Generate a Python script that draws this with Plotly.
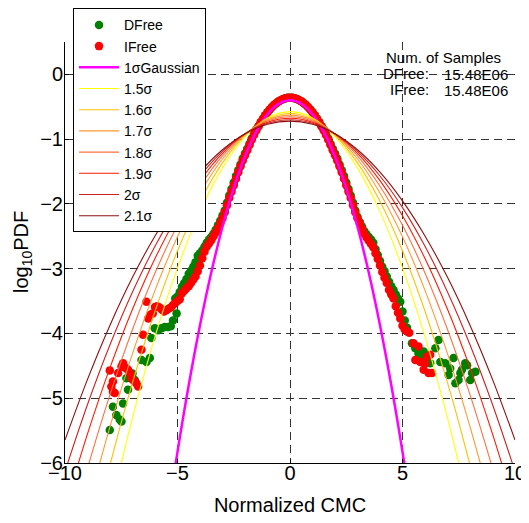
import plotly.graph_objects as go

# ---------------- data ----------------
# DFree (green) histogram points
dfree_x = [-8.01, -7.87, -7.72, -7.57, -7.49, -7.42, -7.27, -7.20, -7.00, -6.90, -6.60, -6.38, -6.23, -6.16,
           -6.01, -5.86, -5.71, -5.57, -5.42, -5.30, -5.20, -5.04, -5.10, -5.00, -4.90, -4.80, -4.70, -4.60,
           -4.50, -4.40, -4.30, -4.20, -4.10, -4.00, -3.90, -3.80, -3.70, -3.60, -3.50, -3.40, -3.30, -3.20,
           -3.10, -3.00, -2.90,
           -2.8, -2.7, -2.6, -2.5, -2.4, -2.3, -2.2, -2.1, -2.0, -1.9, -1.8, -1.7, -1.6, -1.5, -1.4, -1.3,
           -1.2, -1.1, -1.0, -0.9, -0.8, -0.7, -0.6, -0.5, -0.4, -0.3, -0.2, -0.1, 0.0, 0.1, 0.2, 0.3, 0.4,
           0.5, 0.6, 0.7, 0.8, 0.9, 1.0, 1.1, 1.2, 1.3, 1.4, 1.5, 1.6, 1.7, 1.8, 1.9, 2.0, 2.1, 2.2, 2.3,
           2.4, 2.5, 2.6, 2.7, 2.8,
           2.9, 3.0, 3.1, 3.2, 3.3, 3.4, 3.5, 3.6, 3.7, 3.8, 3.9, 4.0, 4.1, 4.2, 4.3, 4.4, 4.5, 4.6, 4.7,
           4.8, 4.9, 5.0, 5.1, 5.2, 5.42, 5.57, 5.71, 5.79, 5.94, 6.09, 6.23, 6.46, 6.60, 6.68, 6.90, 7.05,
           7.12, 7.27, 7.35, 7.49, 7.57, 7.64, 7.79, 7.87, 8.01, 8.09, 8.24]
dfree_y = [-5.49, -5.13, -5.26, -5.33, -5.36, -5.08, -4.69, -4.87, -4.62, -4.72, -4.41, -4.44, -4.38, -4.07,
           -3.92, -3.95, -3.92, -3.90, -3.90, -3.89, -3.80, -3.69, -3.46, -3.43, -3.36, -3.28, -3.22, -3.16,
           -3.08, -3.03, -2.97, -2.90, -2.80, -2.76, -2.72, -2.66, -2.60, -2.55, -2.51, -2.46, -2.40, -2.33,
           -2.26, -2.18, -2.10,
           -1.98, -1.87, -1.77, -1.67, -1.57, -1.48, -1.39, -1.30, -1.22, -1.15, -1.07, -0.99, -0.92, -0.85,
           -0.801, -0.740, -0.684, -0.632, -0.585, -0.542, -0.504, -0.470, -0.441, -0.416, -0.396, -0.380,
           -0.369, -0.362, -0.360, -0.362, -0.369, -0.380, -0.396, -0.416, -0.441, -0.470, -0.504, -0.542,
           -0.585, -0.632, -0.684, -0.740, -0.801, -0.85, -0.92, -0.99, -1.07, -1.15, -1.22, -1.30, -1.39,
           -1.48, -1.57, -1.67, -1.77, -1.87, -1.98,
           -2.10, -2.20, -2.28, -2.35, -2.42, -2.47, -2.51, -2.55, -2.60, -2.70, -2.79, -2.88, -2.97, -3.04,
           -3.12, -3.20, -3.27, -3.33, -3.40, -3.46, -3.51, -3.66, -3.80, -3.91, -4.15, -4.23, -4.31, -4.36,
           -4.28, -4.38, -4.46, -4.23, -4.10, -4.44, -4.46, -4.64, -4.54, -4.38, -4.77, -4.72, -4.61, -4.56,
           -4.46, -4.49, -4.72, -4.61, -4.59]

# IFree (red) histogram points
ifree_x = [-8.01, -7.94, -7.87, -7.87, -7.79, -7.64, -7.49, -7.42, -7.35, -7.27, -7.20, -7.12, -7.05,
           -6.98, -6.90, -6.83, -6.75, -6.60, -6.53, -6.38, -6.30, -6.20, -6.10, -6.00, -5.90, -5.80, -5.70,
           -5.60, -5.50, -5.40, -5.30, -5.20, -5.10, -5.00, -4.90, -4.80, -4.70, -4.60, -4.50, -4.40, -4.30,
           -4.20, -4.10, -4.00, -3.90, -3.80, -3.70, -3.60, -3.50, -3.40, -3.30, -3.20, -3.10, -3.00, -2.90,
           -2.8, -2.7, -2.6, -2.5, -2.4, -2.3, -2.2, -2.1, -2.0, -1.9, -1.8, -1.7, -1.6, -1.5, -1.4, -1.3,
           -1.2, -1.1, -1.0, -0.9, -0.8, -0.7, -0.6, -0.5, -0.4, -0.3, -0.2, -0.1, 0.0, 0.1, 0.2, 0.3, 0.4,
           0.5, 0.6, 0.7, 0.8, 0.9, 1.0, 1.1, 1.2, 1.3, 1.4, 1.5, 1.6, 1.7, 1.8, 1.9, 2.0, 2.1, 2.2, 2.3,
           2.4, 2.5, 2.6, 2.7, 2.8,
           2.9, 3.0, 3.1, 3.2, 3.3, 3.4, 3.5, 3.6, 3.7, 3.8, 3.9, 4.0, 4.1, 4.2, 4.3, 4.4, 4.5, 4.6, 4.7,
           4.8, 4.9, 5.0, 5.1, 5.2, 5.3, 5.49, 5.57, 5.71, 5.79, 5.94, 6.01, 6.09, 6.16, 6.23, 6.31]
ifree_y = [-4.57, -4.82, -4.74, -4.90, -4.92, -4.61, -4.51, -4.46, -4.52, -4.54, -4.56, -4.61, -4.69,
           -4.72, -4.74, -4.77, -4.82, -4.25, -4.02, -3.51, -3.77, -3.71, -3.69, -3.59, -3.58, -3.60, -3.63,
           -3.66, -3.64, -3.62, -3.60, -3.56, -3.53, -3.50, -3.47, -3.38, -3.34, -3.30, -3.27, -3.22, -3.17,
           -3.12, -3.04, -2.95, -2.84, -2.74, -2.66, -2.61, -2.56, -2.50, -2.44, -2.37, -2.30, -2.22, -2.13,
           -2.02, -1.91, -1.81, -1.71, -1.61, -1.51, -1.42, -1.33, -1.25, -1.172, -1.089, -1.010, -0.936,
           -0.866, -0.801, -0.740, -0.684, -0.632, -0.585, -0.542, -0.504, -0.470, -0.441, -0.416, -0.396,
           -0.380, -0.369, -0.362, -0.360, -0.362, -0.369, -0.380, -0.396, -0.416, -0.441, -0.470, -0.504,
           -0.542, -0.585, -0.632, -0.684, -0.740, -0.801, -0.866, -0.936, -1.010, -1.089, -1.172, -1.25,
           -1.33, -1.42, -1.51, -1.61, -1.71, -1.81, -1.91, -2.02,
           -2.13, -2.22, -2.30, -2.38, -2.46, -2.52, -2.57, -2.62, -2.67, -2.76, -2.85, -2.95, -3.05, -3.14,
           -3.22, -3.33, -3.40, -3.46, -3.58, -3.68, -3.77, -3.88, -3.94, -3.97, -3.99, -4.15, -4.41, -4.20,
           -4.44, -4.56, -4.46, -4.36, -4.61, -4.33, -4.61]

# 1-sigma Gaussian reference curve
gauss1_x = [-5.5, -5.0, -4.5, -4.0, -3.5, -3.0, -2.5, -2.0, -1.5, -1.0, -0.5, 0.0,
            0.5, 1.0, 1.5, 2.0, 2.5, 3.0, 3.5, 4.0, 4.5, 5.0, 5.5]
gauss1_y = [-6.968, -5.828, -4.796, -3.873, -3.059, -2.353, -1.756, -1.268, -0.888, -0.616, -0.453, -0.399,
            -0.453, -0.616, -0.888, -1.268, -1.756, -2.353, -3.059, -3.873, -4.796, -5.828, -6.968]

# wider Gaussian curves
sig_x = [-10, -9, -8, -7, -6, -5, -4, -3, -2, -1, 0, 1, 2, 3, 4, 5, 6, 7, 8, 9, 10]
half_15 = [-0.575, -0.672, -0.961, -1.444, -2.119, -2.988, -4.049, -5.304, -6.752, -8.392, -10.226]
half_16 = [-0.603, -0.688, -0.942, -1.366, -1.960, -2.724, -3.657, -4.760, -6.032, -7.474, -9.085]
half_17 = [-0.629, -0.705, -0.930, -1.306, -1.832, -2.508, -3.334, -4.311, -5.438, -6.716, -8.143]
half_18 = [-0.654, -0.721, -0.922, -1.257, -1.727, -2.330, -3.067, -3.938, -4.944, -6.083, -7.356]
half_19 = [-0.678, -0.738, -0.918, -1.219, -1.640, -2.182, -2.843, -3.625, -4.527, -5.550, -6.693]
half_20 = [-0.700, -0.754, -0.917, -1.189, -1.569, -2.057, -2.654, -3.360, -4.174, -5.097, -6.129]
half_21 = [-0.721, -0.770, -0.918, -1.164, -1.509, -1.952, -2.494, -3.134, -3.872, -4.709, -5.645]

sig_names = ["1.5σ", "1.6σ", "1.7σ", "1.8σ", "1.9σ", "2σ", "2.1σ"]
sig_halves = [half_15, half_16, half_17, half_18, half_19, half_20, half_21]
sig_colors = ["#FFFF00", "#FFC000", "#FF9933", "#FF7040", "#FF1A00", "#D02020", "#8B1010"]

x_ticks = [-10, -5, 0, 5, 10]
y_ticks = [-6, -5, -4, -3, -2, -1, 0]

FONT = "Liberation Sans, Arial, sans-serif"

fig = go.Figure()
fig.add_trace(go.Scatter(x=dfree_x, y=dfree_y, mode="markers", name="DFree",
                         marker=dict(color="#008000", size=8.5)))
fig.add_trace(go.Scatter(x=ifree_x, y=ifree_y, mode="markers", name="IFree",
                         marker=dict(color="#FF0000", size=8.5)))
fig.add_trace(go.Scatter(x=gauss1_x, y=gauss1_y, mode="lines", name="1σGaussian",
                         line=dict(color="#FF00FF", width=2.5, shape="spline")))
for name, half, col in zip(sig_names, sig_halves, sig_colors):
    ys = list(reversed(half)) + half[1:]
    fig.add_trace(go.Scatter(x=sig_x, y=ys, mode="lines", name=name,
                             line=dict(color=col, width=1.1, shape="spline")))

axis_common = dict(showline=True, linecolor="black", linewidth=1, mirror=False,
                   ticks="inside", ticklen=4, tickcolor="black",
                   showgrid=True, gridcolor="#333333", gridwidth=1.2, griddash="8px,5px",
                   zeroline=False, tickfont=dict(family=FONT, size=20, color="black"))

fig.update_xaxes(range=[-10, 10], tickvals=x_ticks, ticklabelstandoff=-8, **axis_common,
                 title=dict(text="Normalized CMC", font=dict(family=FONT, size=20, color="black"),
                            standoff=14))
fig.update_yaxes(range=[-6, 0.5], tickvals=y_ticks, ticklabelstandoff=-3, **axis_common)

ann_font = dict(family=FONT, size=15, color="black")
fig.update_layout(
    width=521, height=515,
    margin=dict(l=57, r=14, t=34, b=60, autoexpand=False),
    paper_bgcolor="white", plot_bgcolor="white",
    showlegend=True,
    legend=dict(x=0.0178, y=1.08, xanchor="left", yanchor="top",
                bgcolor="white", bordercolor="black", borderwidth=1,
                font=dict(family=FONT, size=14, color="black"),
                tracegroupgap=0, itemwidth=40),
    annotations=[
        dict(text="log<sub>10</sub>PDF", x=-0.0956, y=0.501, xref="paper", yref="paper",
             textangle=-90, xanchor="center", yanchor="middle", showarrow=False,
             font=dict(family=FONT, size=20, color="black")),
        dict(text="Num. of Samples", x=0.842, y=0.962, xref="paper", yref="paper",
             xanchor="center", yanchor="middle", showarrow=False, font=ann_font),
        dict(text="DFree:", x=0.813, y=0.926, xref="paper", yref="paper",
             xanchor="right", yanchor="middle", showarrow=False, font=ann_font),
        dict(text="15.48E06", x=0.838, y=0.922, xref="paper", yref="paper",
             xanchor="left", yanchor="middle", showarrow=False, font=ann_font),
        dict(text="IFree:", x=0.813, y=0.888, xref="paper", yref="paper",
             xanchor="right", yanchor="middle", showarrow=False, font=ann_font),
        dict(text="15.48E06", x=0.838, y=0.884, xref="paper", yref="paper",
             xanchor="left", yanchor="middle", showarrow=False, font=ann_font),
    ],
)

fig.write_html("out.html")
